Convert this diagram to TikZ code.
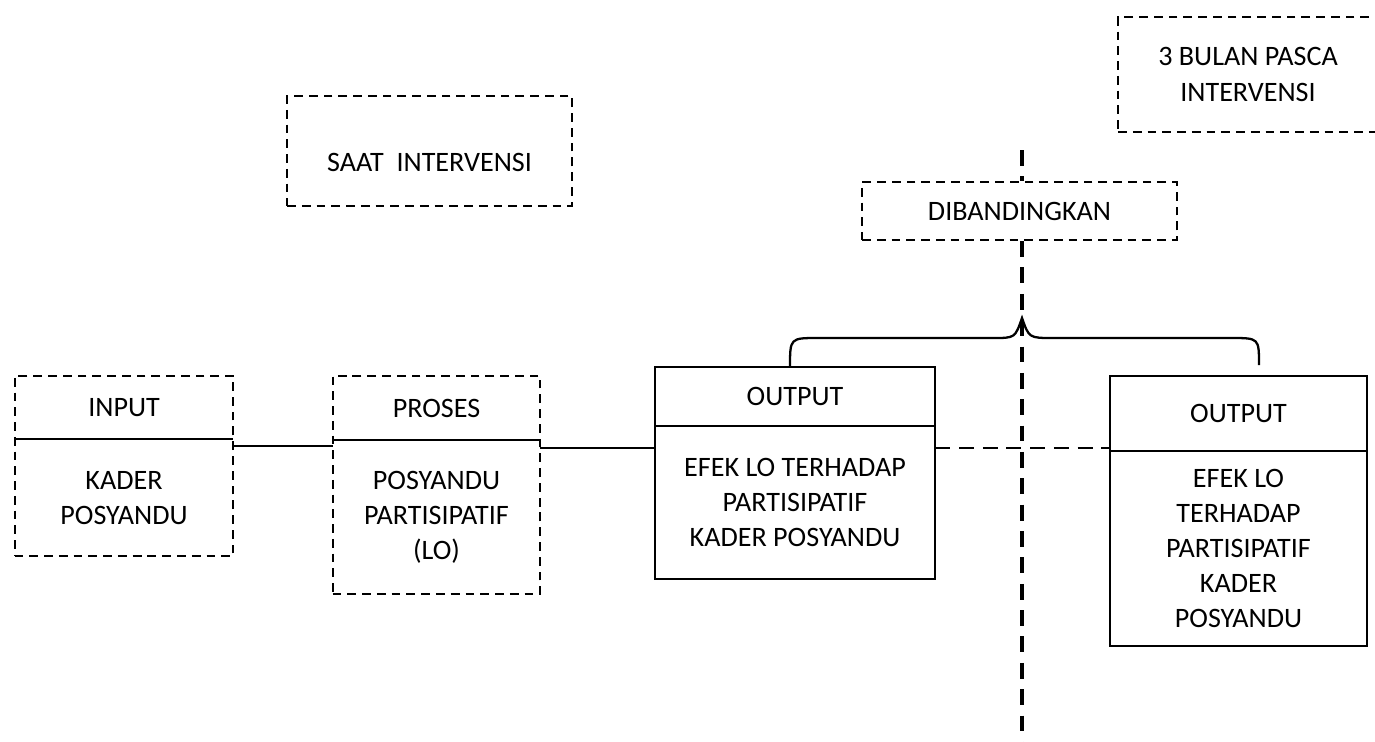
\documentclass[tikz,border=0pt]{standalone}
\usepackage{fontspec}
\setmainfont{Carlito}
\usetikzlibrary{positioning,fit}
\newcommand{\boxfont}{\fontsize{16}{20}\selectfont}

\begin{document}
\begin{tikzpicture}[
  x=0.02cm, y=-0.02cm,
  part/.style={
    inner sep=0pt,
    align=center,
    font=\boxfont
  },
  dbox/.style={
    draw,
    line width=1.3pt,
    dash pattern=on 5pt off 3.4pt,
    inner sep=0pt,
    align=center,
    font=\boxfont
  },
  sbox/.style={draw,line width=1.3pt,inner sep=0pt},
  link/.style={line width=1.3pt},
  dlink/.style={line width=1.3pt,dash pattern=on 8.5pt off 5pt},
  divide/.style={line width=2.5pt,dash pattern=on 9pt off 6pt}
]
  \useasboundingbox (0,0) rectangle (1375,741);

  % saat intervensi
  \node[dbox,minimum width=5.7cm,minimum height=2.2cm] (saat) at (429.5,151) {};
  \node[part] (saattext) at (429.5,162) {SAAT\ \ INTERVENSI};

  % 3 bulan pasca intervensi
  \node[dbox,minimum width=5.2cm,minimum height=2.3cm] (pasca) at (1248,74.5)
    {3 BULAN PASCA\\INTERVENSI};

  % dibandingkan
  \node[dbox,minimum width=6.3cm,minimum height=1.16cm] (banding) at (1019.5,211)
    {DIBANDINGKAN};

  % input
  \node[part,minimum width=4.36cm,minimum height=1.26cm] (inhead) at (124,407.5) {INPUT};
  \node[part,minimum width=4.36cm,minimum height=2.32cm,below=0pt of inhead] (inbody)
    {KADER\\POSYANDU};
  \node[dbox,fit=(inhead)(inbody)] (input) {};
  \draw[link] (inhead.south west) -- (inhead.south east);

  % proses
  \node[part,minimum width=4.14cm,minimum height=1.28cm] (prhead) at (436.5,408) {PROSES};
  \node[part,minimum width=4.14cm,minimum height=3.06cm,below=0pt of prhead] (prbody)
    {POSYANDU\\PARTISIPATIF\\(LO)};
  \node[dbox,fit=(prhead)(prbody)] (proses) {};
  \draw[link] (prhead.south west) -- (prhead.south east);

  % output saat intervensi
  \node[part,minimum width=5.6cm,minimum height=1.18cm] (outhead) at (795,396.5) {OUTPUT};
  \node[part,minimum width=5.6cm,minimum height=3.04cm,below=0pt of outhead] (outbody)
    {EFEK LO TERHADAP\\PARTISIPATIF\\KADER POSYANDU};
  \node[sbox,fit=(outhead)(outbody)] (output) {};
  \draw[link] (outhead.south west) -- (outhead.south east);

  % output pasca intervensi
  \node[part,minimum width=5.14cm,minimum height=1.5cm] (posthead) at (1238.5,413.5) {OUTPUT};
  \node[part,minimum width=5.14cm,minimum height=3.88cm,below=0pt of posthead] (postbody)
    {EFEK LO\\TERHADAP\\PARTISIPATIF\\KADER\\POSYANDU};
  \node[sbox,fit=(posthead)(postbody)] (postout) {};
  \draw[link] (posthead.south west) -- (posthead.south east);

  % connectors
  \draw[link] ([yshift=-0.14cm]inbody.north east) -- ([yshift=-0.14cm]inbody.north east -| prbody.west);
  \draw[link] ([yshift=-0.16cm]prbody.north east) -- ([yshift=-0.16cm]prbody.north east -| outbody.west);
  \draw[dlink] ([yshift=-0.44cm]outbody.north east) -- ([yshift=-0.44cm]outbody.north east -| postbody.west);

  % dividing line
  \coordinate (vtop) at (1022,150);
  \coordinate (vbot) at (1022,745);
  \draw[divide] (vtop) -- (vtop |- banding.north);
  \draw[divide] (vtop |- banding.south) -- (vbot);

  % brace
  \coordinate (bleft) at (790,367);
  \coordinate (btip) at (1022,318);
  \coordinate (bright) at (1259,365);
  \draw[link] (bleft) .. controls (790,338) .. (818,338) -- (993,338)
    .. controls (1015,338) .. (btip)
    .. controls (1029,338) .. (1053,338) -- (1231,338)
    .. controls (1259,338) .. (bright);
\end{tikzpicture}
\end{document}
